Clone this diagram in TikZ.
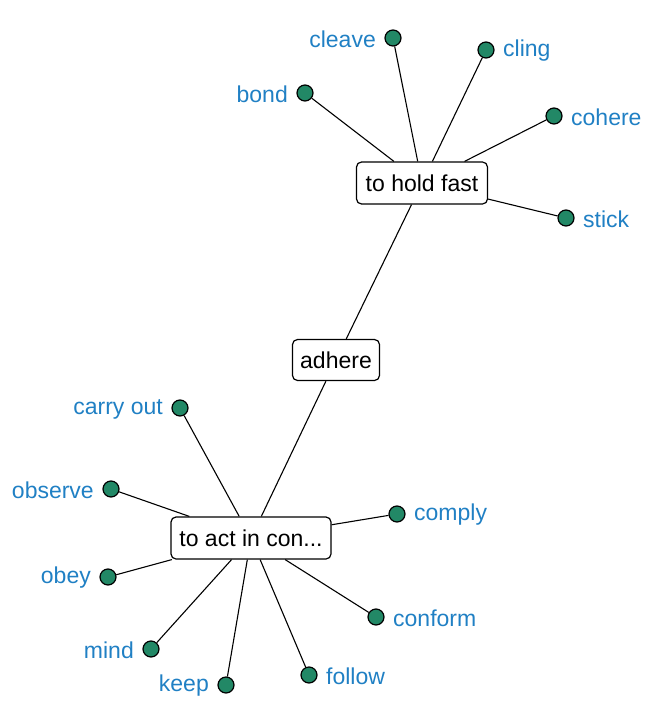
\documentclass[tikz,border=0pt]{standalone}
\usepackage{fontspec}
\setmainfont{Liberation Sans}
\definecolor{leafblue}{RGB}{32,128,196}
\definecolor{leafgreen}{RGB}{34,136,102}
\begin{document}
\begin{tikzpicture}[x=1pt,y=-1pt,
  hub/.style={draw=black,line width=1.2pt,fill=white,rounded corners=5pt,inner sep=0pt,font=\fontsize{23}{27}\selectfont},
  dot/.style={circle,draw=black,line width=1.2pt,fill=leafgreen,minimum size=16pt,inner sep=0pt},
  lbl/.style={text=leafblue,inner sep=0pt,font=\fontsize{23}{27}\selectfont},
  edge/.style={line width=1.1pt,black}]
\useasboundingbox (0,0) rectangle (656,719);
% hubs
\node[hub,minimum width=131pt,minimum height=42pt] (hold) at (422,183) {to hold fast};
\node[hub,minimum width=87pt,minimum height=41pt] (adhere) at (336,360) {adhere};
\node[hub,minimum width=160pt,minimum height=42pt] (act) at (251,538) {to act in con...};
% leaves
\node[dot] (cleave) at (393,38) {};
\node[dot] (cling) at (486,50) {};
\node[dot] (bond) at (305,93) {};
\node[dot] (cohere) at (554,116) {};
\node[dot] (stick) at (566,218) {};
\node[dot] (carry) at (180,408) {};
\node[dot] (observe) at (111,489) {};
\node[dot] (comply) at (397,514) {};
\node[dot] (obey) at (108,577) {};
\node[dot] (conform) at (376,617) {};
\node[dot] (mind) at (151,649) {};
\node[dot] (keep) at (226,685) {};
\node[dot] (follow) at (309,675) {};
% labels
\node[lbl,anchor=east] (tcleave) at ([xshift=-17pt,yshift=-1pt]cleave.center) {cleave};
\node[lbl,anchor=west] (tcling) at ([xshift=17pt,yshift=-1pt]cling.center) {cling};
\node[lbl,anchor=east] (tbond) at ([xshift=-17pt,yshift=-1pt]bond.center) {bond};
\node[lbl,anchor=west] (tcohere) at ([xshift=17pt,yshift=-1pt]cohere.center) {cohere};
\node[lbl,anchor=west] (tstick) at ([xshift=17pt,yshift=-1pt]stick.center) {stick};
\node[lbl,anchor=east] (tcarry) at ([xshift=-17pt,yshift=-1pt]carry.center) {carry out};
\node[lbl,anchor=east] (tobserve) at ([xshift=-17pt,yshift=-1pt]observe.center) {observe};
\node[lbl,anchor=west] (tcomply) at ([xshift=17pt,yshift=-1pt]comply.center) {comply};
\node[lbl,anchor=east] (tobey) at ([xshift=-17pt,yshift=-1pt]obey.center) {obey};
\node[lbl,anchor=west] (tconform) at ([xshift=17pt,yshift=-1pt]conform.center) {conform};
\node[lbl,anchor=east] (tmind) at ([xshift=-17pt,yshift=-1pt]mind.center) {mind};
\node[lbl,anchor=east] (tkeep) at ([xshift=-17pt,yshift=-1pt]keep.center) {keep};
\node[lbl,anchor=west] (tfollow) at ([xshift=17pt,yshift=-1pt]follow.center) {follow};
% edges (drawn under the nodes via background-free ordering)
\begin{scope}
\foreach \l in {cleave,cling,bond,cohere,stick}
  \draw[edge] (hold) -- (\l);
\foreach \l in {carry,observe,comply,obey,conform,mind,keep,follow}
  \draw[edge] (act) -- (\l);
\draw[edge] (hold) -- (adhere);
\draw[edge] (adhere) -- (act);
\end{scope}
\end{tikzpicture}
\end{document}
